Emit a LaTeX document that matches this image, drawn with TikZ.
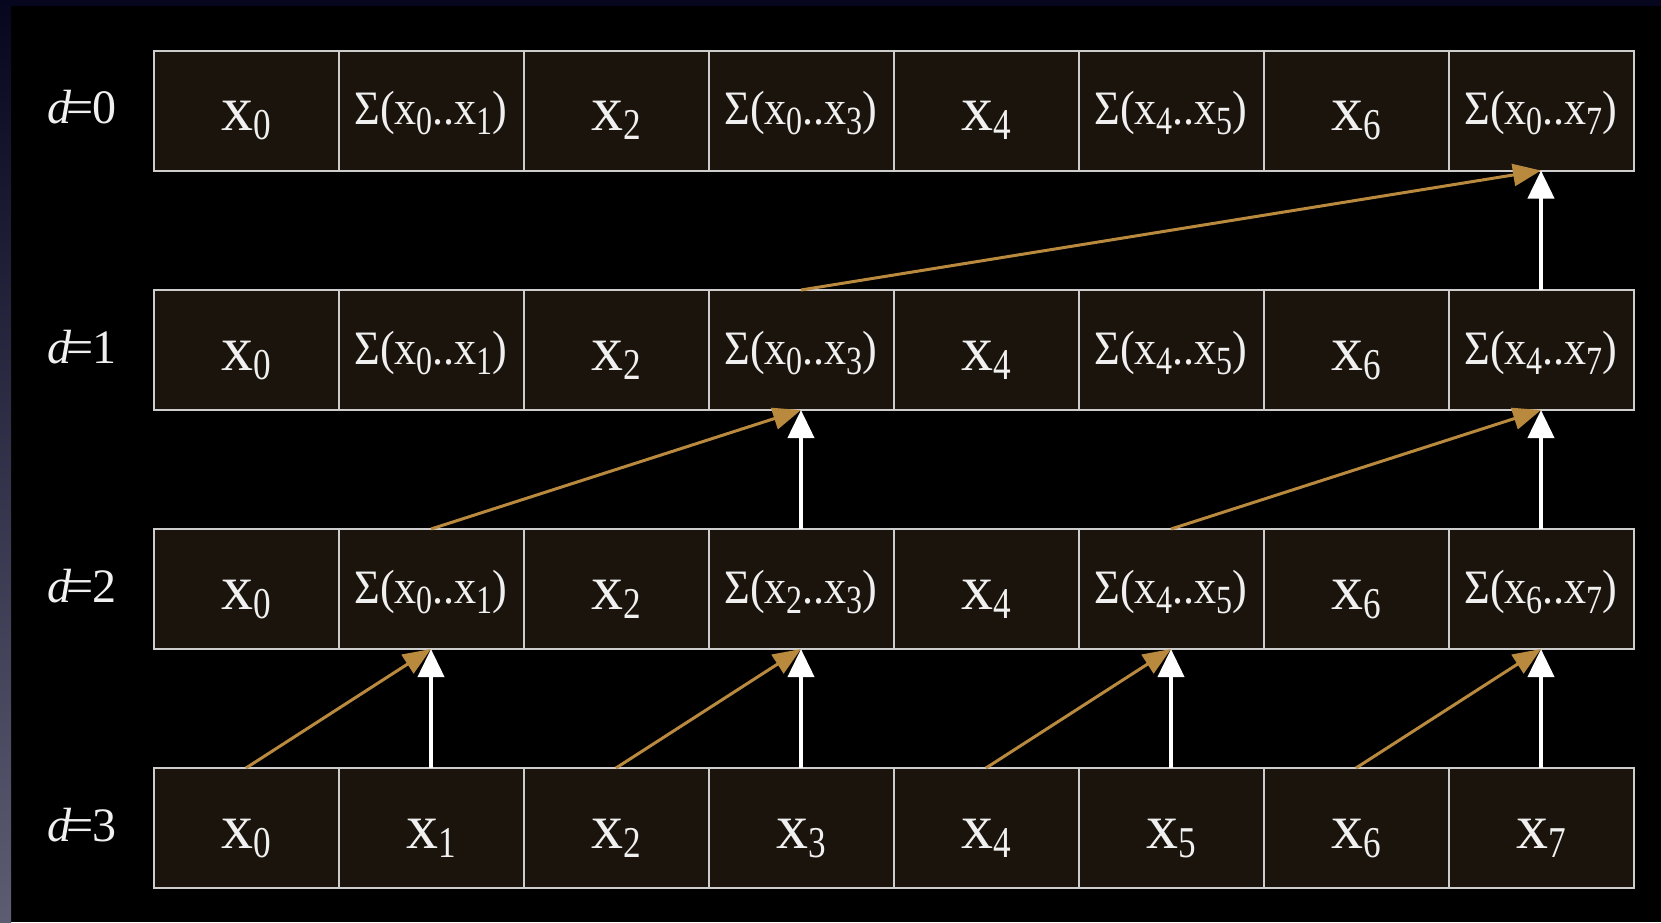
\documentclass[tikz,border=0pt]{standalone}
\usepackage{fontspec}
\setmainfont{Liberation Serif}
\newfontfamily\subcond[FakeStretch=0.8]{Liberation Serif}
\newfontfamily\sumfamily[FakeStretch=0.92]{Liberation Serif}
\usetikzlibrary{arrows.meta}
\definecolor{gold}{RGB}{185,137,62}
\definecolor{cellfill}{RGB}{27,20,12}
\definecolor{cellline}{RGB}{205,205,205}
\definecolor{navy}{RGB}{6,6,30}
\definecolor{sidemid}{RGB}{55,55,80}
\definecolor{sidegrey}{RGB}{92,92,115}
\definecolor{txt}{RGB}{240,240,240}
\newcommand{\xsub}[1]{x\raisebox{-4.5pt}{\subcond\fontsize{22}{22}\selectfont #1}}
\newcommand{\ssum}[2]{Σ(x\raisebox{-5pt}{\subcond\fontsize{20}{20}\selectfont #1}..x\raisebox{-5pt}{\subcond\fontsize{20}{20}\selectfont #2})}
\newcommand{\dlab}[1]{\textit{d}\kern-3pt=\kern-0.5pt#1}
\begin{document}
\begin{tikzpicture}[x=0.5pt,y=-0.5pt,
  cell/.style={draw=cellline, line width=1pt, fill=cellfill, minimum width=92.5pt, minimum height=60pt, inner sep=0pt, outer sep=0pt, text=txt},
  plaincell/.style={cell, font=\fontsize{32}{32}\selectfont, text height=20pt, text depth=0pt},
  sumcell/.style={cell, font=\sumfamily\fontsize{24}{24}\selectfont, text height=14pt, text depth=0pt},
  lab/.style={text=txt, font=\fontsize{24}{24}\selectfont, inner sep=0pt, anchor=base},
  goldarrow/.style={draw=gold, line width=1.5pt, -{Triangle[length=14pt,width=11pt]}},
  whitearrow/.style={draw=white, line width=2pt, -{Triangle[length=14pt,width=13pt]}}]
\useasboundingbox (0,0) rectangle (1661,922);
\fill[black] (0,0) rectangle (1661,922);
\fill[navy] (0,0) rectangle (1661,6);
\shade[top color=navy, middle color=sidemid, bottom color=sidegrey] (0,0) rectangle (11,922);
% row 0
\node[plaincell] (c0-0) at (246,110.5) {\xsub{0}};
\node[sumcell]   (c0-1) at (431,110.5) {\ssum{0}{1}};
\node[plaincell] (c0-2) at (616,110.5) {\xsub{2}};
\node[sumcell]   (c0-3) at (801,110.5) {\ssum{0}{3}};
\node[plaincell] (c0-4) at (986,110.5) {\xsub{4}};
\node[sumcell]   (c0-5) at (1171,110.5) {\ssum{4}{5}};
\node[plaincell] (c0-6) at (1356,110.5) {\xsub{6}};
\node[sumcell]   (c0-7) at (1541,110.5) {\ssum{0}{7}};
% row 1
\node[plaincell] (c1-0) at (246,350) {\xsub{0}};
\node[sumcell]   (c1-1) at (431,350) {\ssum{0}{1}};
\node[plaincell] (c1-2) at (616,350) {\xsub{2}};
\node[sumcell]   (c1-3) at (801,350) {\ssum{0}{3}};
\node[plaincell] (c1-4) at (986,350) {\xsub{4}};
\node[sumcell]   (c1-5) at (1171,350) {\ssum{4}{5}};
\node[plaincell] (c1-6) at (1356,350) {\xsub{6}};
\node[sumcell]   (c1-7) at (1541,350) {\ssum{4}{7}};
% row 2
\node[plaincell] (c2-0) at (246,589) {\xsub{0}};
\node[sumcell]   (c2-1) at (431,589) {\ssum{0}{1}};
\node[plaincell] (c2-2) at (616,589) {\xsub{2}};
\node[sumcell]   (c2-3) at (801,589) {\ssum{2}{3}};
\node[plaincell] (c2-4) at (986,589) {\xsub{4}};
\node[sumcell]   (c2-5) at (1171,589) {\ssum{4}{5}};
\node[plaincell] (c2-6) at (1356,589) {\xsub{6}};
\node[sumcell]   (c2-7) at (1541,589) {\ssum{6}{7}};
% row 3
\node[plaincell] (c3-0) at (246,828) {\xsub{0}};
\node[plaincell] (c3-1) at (431,828) {\xsub{1}};
\node[plaincell] (c3-2) at (616,828) {\xsub{2}};
\node[plaincell] (c3-3) at (801,828) {\xsub{3}};
\node[plaincell] (c3-4) at (986,828) {\xsub{4}};
\node[plaincell] (c3-5) at (1171,828) {\xsub{5}};
\node[plaincell] (c3-6) at (1356,828) {\xsub{6}};
\node[plaincell] (c3-7) at (1541,828) {\xsub{7}};
% labels
\node[lab] (l0) at (82,123.5) {\dlab{0}};
\node[lab] (l1) at (82,363) {\dlab{1}};
\node[lab] (l2) at (82,602) {\dlab{2}};
\node[lab] (l3) at (82,841) {\dlab{3}};
% arrows d=3 -> d=2
\draw[goldarrow] (c3-0.north) -- (c2-1.south);
\draw[whitearrow] (c3-1.north) -- (c2-1.south);
\draw[goldarrow] (c3-2.north) -- (c2-3.south);
\draw[whitearrow] (c3-3.north) -- (c2-3.south);
\draw[goldarrow] (c3-4.north) -- (c2-5.south);
\draw[whitearrow] (c3-5.north) -- (c2-5.south);
\draw[goldarrow] (c3-6.north) -- (c2-7.south);
\draw[whitearrow] (c3-7.north) -- (c2-7.south);
% d=2 -> d=1
\draw[goldarrow] (c2-1.north) -- (c1-3.south);
\draw[whitearrow] (c2-3.north) -- (c1-3.south);
\draw[goldarrow] (c2-5.north) -- (c1-7.south);
\draw[whitearrow] (c2-7.north) -- (c1-7.south);
% d=1 -> d=0
\draw[goldarrow] (c1-3.north) -- (c0-7.south);
\draw[whitearrow] (c1-7.north) -- (c0-7.south);
\end{tikzpicture}
\end{document}
